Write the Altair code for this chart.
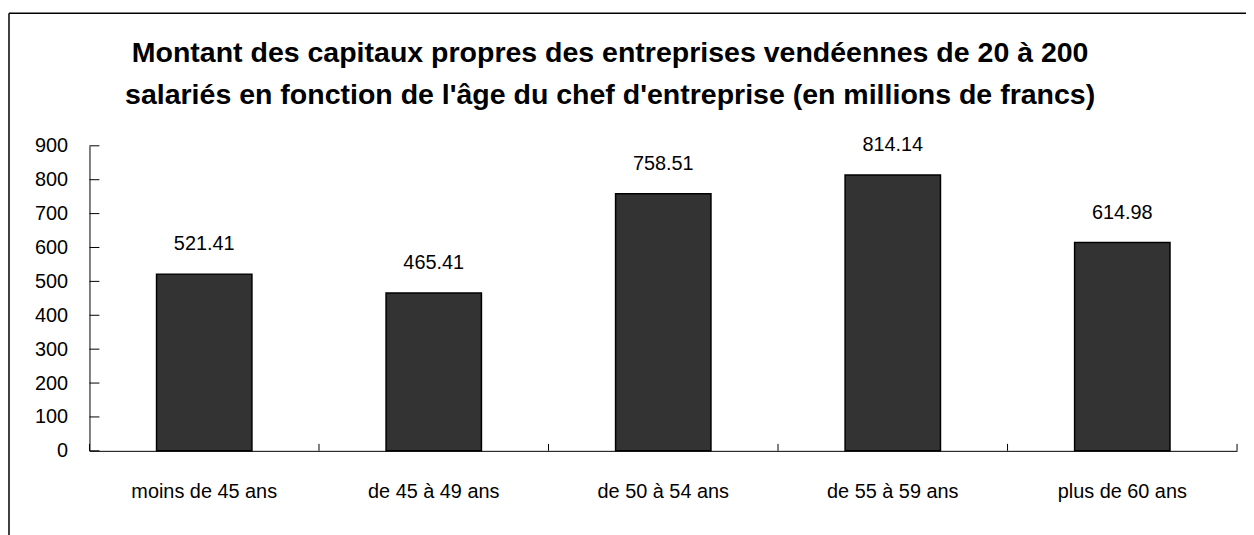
import altair as alt
import pandas as pd

categories = ["moins de 45 ans", "de 45 à 49 ans", "de 50 à 54 ans", "de 55 à 59 ans", "plus de 60 ans"]
valeurs = [521.41, 465.41, 758.51, 814.14, 614.98]
yticks = [0, 100, 200, 300, 400, 500, 600, 700, 800, 900]
title_lines = [
    "Montant des capitaux propres des entreprises vendéennes de 20 à 200",
    "salariés en fonction de l'âge du chef d'entreprise (en millions de francs)",
]

FONT = "Liberation Sans, Arial, sans-serif"
FS = 20
W, H = 1155, 307

df = pd.DataFrame({"cat": categories, "val": valeurs})
df_ticks = pd.DataFrame({"val": yticks})
one = pd.DataFrame({"k": [0]})

xaxis = alt.Axis(labelAngle=0, ticks=False, tickSize=0, labelPadding=47,
                 labelBaseline="alphabetic", labelFontSize=FS, labelFont=FONT,
                 labelColor="black", domainColor="black", domainWidth=1, grid=False,
                 labelOverlap=False, title=None)
yaxis = alt.Axis(values=yticks, ticks=False, tickSize=0, labelPadding=22,
                 labelFontSize=FS, labelFont=FONT, labelColor="black",
                 domainColor="black", domainWidth=1, grid=False,
                 labelOverlap=False, labelBound=False, labelFlush=False, title=None)
xscale = alt.Scale(paddingInner=0, paddingOuter=0)
yscale = alt.Scale(domain=[0, 900], nice=False)


def X(**kw):
    return alt.X("cat:N", sort=categories, scale=xscale, axis=xaxis, **kw)


def Y():
    return alt.Y("val:Q", scale=yscale, axis=yaxis)


bars = alt.Chart(df).mark_bar(size=96, color="#333333", stroke="black", strokeWidth=1.5).encode(
    x=X(), y=Y()
)
labels = alt.Chart(df).mark_text(
    baseline="alphabetic", dy=-24, fontSize=FS, font=FONT, color="black"
).encode(x=X(), y=Y(), text=alt.Text("val:Q", format=".2f"))

ytick_rules = alt.Chart(df_ticks).mark_rule(color="black", strokeWidth=1).encode(
    y=Y(), x=alt.value(0), x2=alt.value(10)
)
xtick_rules = alt.Chart(df).mark_rule(color="black", strokeWidth=1).encode(
    x=X(bandPosition=0), y=alt.value(H), y2=alt.value(H - 7)
)
xtick_end = alt.Chart(one).mark_rule(color="black", strokeWidth=1).encode(
    x=alt.value(W), y=alt.value(H), y2=alt.value(H - 7)
)

frame_top = alt.Chart(one).mark_rule(color="black", strokeWidth=1.5).encode(
    x=alt.value(-81), x2=alt.value(1170), y=alt.value(-133.5)
)
frame_left = alt.Chart(one).mark_rule(color="black", strokeWidth=1.5).encode(
    x=alt.value(-81), y=alt.value(-133.5), y2=alt.value(400)
)

t1 = alt.Chart(one).mark_text(
    text=title_lines[0], fontSize=28.7, fontWeight="bold", font=FONT, align="center",
    baseline="alphabetic", color="black"
).encode(x=alt.value(524), y=alt.value(-84))
t2 = alt.Chart(one).mark_text(
    text=title_lines[1], fontSize=28.7, fontWeight="bold", font=FONT, align="center",
    baseline="alphabetic", color="black"
).encode(x=alt.value(524), y=alt.value(-42))

chart = alt.layer(
    bars, labels, ytick_rules, xtick_rules, xtick_end, frame_top, frame_left, t1, t2
).properties(
    width=W, height=H,
    autosize=alt.AutoSizeParams(type="none"),
    padding={"left": 82, "top": 137, "right": 9, "bottom": 83},
    background="white",
).configure_view(stroke=None)

chart.save("out.html", embed_options={"renderer": "svg", "actions": False})
